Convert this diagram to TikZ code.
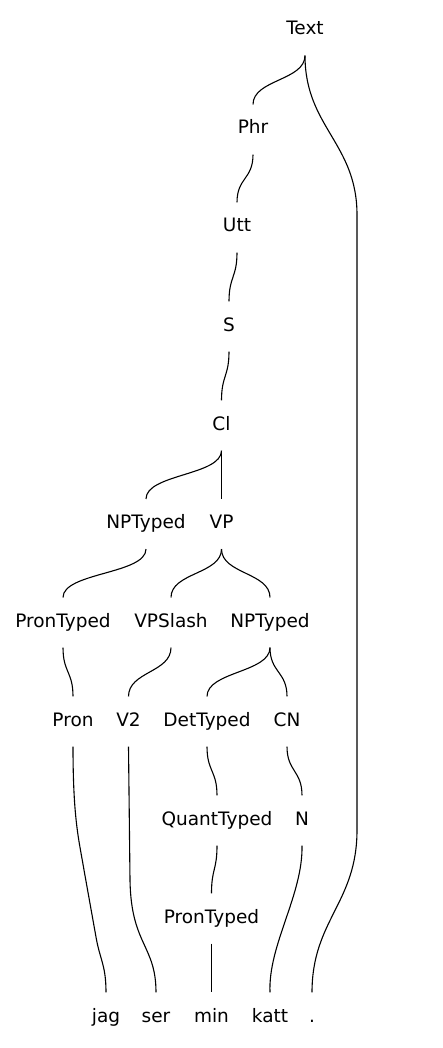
\documentclass[tikz,border=0pt]{standalone}
\usepackage{fontspec}
\setmainfont{DejaVu Sans}
\begin{document}
\begin{tikzpicture}[x=1pt,y=1pt,line width=1.1pt,
	cat/.style={anchor=base,inner sep=0pt,text height=29pt,text depth=20pt,font=\fontsize{18.5}{21}\selectfont}]
		\useasboundingbox (0,0) rectangle (443,-1048);
		\node[cat] (Text) at (305,-35) {Text};
		\node[cat] (Phr) at (253,-134) {Phr};
		\node[cat] (Utt) at (237,-232) {Utt};
		\node[cat] (S) at (229,-331) {S};
		\node[cat] (Cl) at (221.5,-430) {Cl};
		\node[cat] (NPa) at (146,-528.5) {NPTyped};
		\node[cat] (VP) at (221.5,-528.5) {VP};
		\node[cat] (PronTa) at (63,-627) {PronTyped};
		\node[cat] (VPSlash) at (171,-627) {VPSlash};
		\node[cat] (NPb) at (270,-627) {NPTyped};
		\node[cat] (Pron) at (73,-726) {Pron};
		\node[cat] (V2) at (128.5,-726) {V2};
		\node[cat] (Det) at (207,-726) {DetTyped};
		\node[cat] (CN) at (287,-726) {CN};
		\node[cat] (Quant) at (217,-825) {QuantTyped};
		\node[cat] (N) at (302,-825) {N};
		\node[cat] (PronTb) at (211.5,-923) {PronTyped};
		\node[cat] (jag) at (106,-1022) {jag};
		\node[cat] (ser) at (156,-1022) {ser};
		\node[cat] (min) at (211.5,-1022) {min};
		\node[cat] (katt) at (270,-1022) {katt};
		\node[cat] (dot) at (312,-1022) {.};
		\foreach \a/\b in {Text/Phr,Phr/Utt,Utt/S,S/Cl,Cl/NPa,Cl/VP,NPa/PronTa,VP/VPSlash,VP/NPb,
			PronTa/Pron,VPSlash/V2,NPb/Det,NPb/CN,Det/Quant,CN/N,Quant/PronTb,PronTb/min}
			\draw (\a.south) .. controls ([yshift=-25pt]\a.south) and ([yshift=25pt]\b.north) .. (\b.north);
		% long ones
		\draw (Text.south) .. controls (305,-127) and (357,-143) .. (357,-215) -- (357,-830)
			.. controls (357,-903) and (312,-920) .. (dot.north);
		\draw (Pron.south) .. controls (73,-820) and (79,-840) .. (84,-870) -- (96,-937)
			.. controls (100,-960) and (106,-965) .. (jag.north);
		\draw (V2.south) -- (130,-880) .. controls (131,-945) and (156,-945) .. (ser.north);
		\draw (N.south) .. controls (303,-895) and (268,-945) .. (katt.north);
	\end{tikzpicture}
\end{document}
